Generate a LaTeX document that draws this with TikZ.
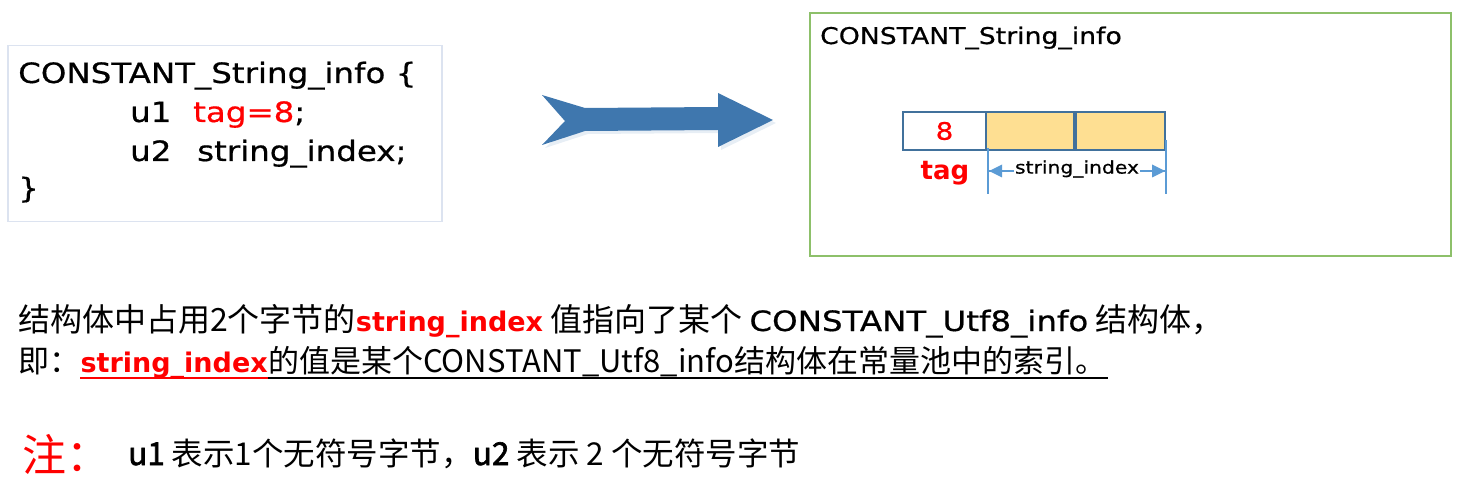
\documentclass[tikz,border=0pt]{standalone}
\usepackage{fontspec}
\setmainfont{DejaVu Sans}
\newfontfamily\comic[FakeStretch=1.16,FakeBold=0.6]{DejaVu Sans}
\newfontfamily\plainsans{DejaVu Sans}
\newfontfamily\cjk{Noto Sans CJK SC}
\newfontfamily\cjkbold[FakeBold=2]{Noto Sans CJK SC}
\usetikzlibrary{arrows.meta}
\definecolor{codeframe}{HTML}{DCE3F0}
\definecolor{greenframe}{HTML}{8DC06A}
\definecolor{arrowblue}{HTML}{3F77AE}
\definecolor{cellframe}{HTML}{41719C}
\definecolor{cellfill}{HTML}{FEDF92}
\definecolor{dimblue}{HTML}{5B9BD5}
\definecolor{txtred}{HTML}{FF0000}
\tikzset{
  codetext/.style={anchor=base west, inner sep=0pt, font=\comic\fontsize{28}{28}\selectfont},
  cjktext/.style={anchor=base west, inner sep=0pt, font=\cjk\fontsize{31}{31}\selectfont},
  cellbox/.style={draw=cellframe, line width=2.2pt, minimum height=38pt, inner sep=0pt},
  dimline/.style={draw=dimblue, line width=1.2pt},
}
\begin{document}
\begin{tikzpicture}[x=1pt,y=-1pt]
\useasboundingbox (0,0) rectangle (1458,494);

% left code box
\node[draw=codeframe, line width=1.5pt, minimum width=434pt, minimum height=176pt, anchor=north west, inner sep=0pt] (leftbox) at (7,45) {};
\node[codetext] (c1) at (18,83) {CONSTANT\_String\_info \{};
\node[codetext] (c2u) at (130,122) {u1};
\node[codetext] (c2t) at (193,122) {\textcolor{txtred}{tag=8};};
\node[codetext] (c3u) at (130,161) {u2};
\node[codetext] (c3s) at (197,161) {string\_index;};
\node[codetext] (c4) at (18,198) {\}};

% big arrow
\fill[arrowblue!25, opacity=0.5] (545,98) -- (588,111) -- (721,110) -- (721,96) -- (776,123) -- (721,150) -- (721,133) -- (588,134) -- (545,148) -- (568,125) -- cycle;
\fill[arrowblue] (542,95) -- (585,108) -- (718,107) -- (718,93) -- (773,120) -- (718,147) -- (718,130) -- (585,131) -- (542,145) -- (565,121) -- cycle;

% right green box
\node[draw=greenframe, line width=2pt, minimum width=641pt, minimum height=243pt, anchor=north west, inner sep=0pt] (rightbox) at (809,12) {};
\node[anchor=base west, inner sep=0pt, font=\comic\fontsize{23}{23}\selectfont] (title) at (820,44) {CONSTANT\_String\_info};

% cells
\node[cellbox, fill=white, minimum width=83pt, text=txtred, font=\comic\fontsize{24}{24}\selectfont] (cell1) at (944.5,131) {8};
\node[cellbox, fill=cellfill, minimum width=88pt] (cell2) at (1030,131) {};
\node[cellbox, fill=cellfill, minimum width=89pt] (cell3) at (1120.5,131) {};

\node[anchor=base, inner sep=0pt, text=txtred, font=\plainsans\bfseries\fontsize{26}{26}\selectfont] (tag) at (945,180) {tag};

% dimension
\coordinate (dl1) at (988,148);
\coordinate (dl2) at (988,194);
\coordinate (dr1) at (1166,140);
\coordinate (dr2) at (1166,194);
\draw[dimline] (dl1) -- (dl2);
\draw[dimline] (dr1) -- (dr2);
\coordinate (da) at (989,171);
\coordinate (db) at (1165,171);
\draw[dimline] (da) -- (db);
\fill[dimblue] (da) -- ++(13,-6.5) -- ++(0,13) -- cycle;
\fill[dimblue] (db) -- ++(-13,-6.5) -- ++(0,13) -- cycle;
\node[fill=white, inner sep=1pt, font=\comic\fontsize{17.5}{17.5}\selectfont] (sidx) at (1077,169) {string\_index};

% explanation lines
\node[cjktext, font=\cjk\fontsize{32}{32}\selectfont] (t1) at (18,331) {结构体中占用2个字节的{\textcolor{txtred}{\plainsans\bfseries\fontsize{27}{27}\selectfont string\_index}} 值指向了某个 {\comic\fontsize{28}{28}\selectfont CONSTANT\_Utf8\_info} 结构体，};

\node[cjktext] (t2a) at (18,372) {即：};
\node[anchor=base west, inner sep=0pt, text=txtred, font=\plainsans\bfseries\fontsize{27}{27}\selectfont] (t2b) at (t2a.base east) {string\_index};
\node[cjktext] (t2c) at (t2b.base east) {的值是某个CONSTANT\_Utf8\_info结构体在常量池中的索引。};
\draw[txtred, line width=1.6pt] ([yshift=-6pt]t2b.base west) -- ([yshift=-6pt]t2b.base east);
\draw[black, line width=1.6pt] ([yshift=-6pt]t2b.base east) -- ([xshift=2pt,yshift=-6pt]t2c.base east);

% note
\node[anchor=base west, inner sep=0pt, text=txtred, font=\cjk\fontsize{44}{44}\selectfont] (n1) at (22,471) {注：};
\node[anchor=base west, inner sep=0pt, font=\cjk\fontsize{31.5}{31.5}\selectfont] (n2) at (128,465) {{\cjkbold u1} 表示1个无符号字节，{\cjkbold u2} 表示 2 个无符号字节};
\end{tikzpicture}
\end{document}
